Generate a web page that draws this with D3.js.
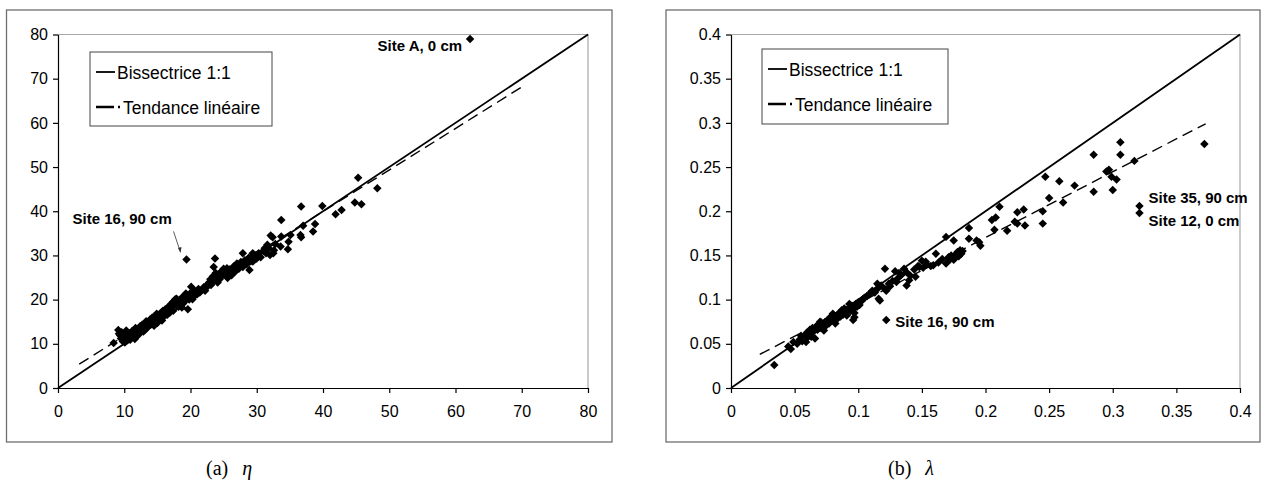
<!DOCTYPE html>
<html>
<head>
<meta charset="utf-8">
<script src="https://cdn.jsdelivr.net/npm/d3@7"></script>
<style>
  html, body { margin: 0; padding: 0; background: #fff; }
  svg { display: block; }
</style>
</head>
<body>
<svg id="chart" width="1266" height="487"></svg>
<script>
// ---------------- DATA ----------------
const etaTicks = [0, 10, 20, 30, 40, 50, 60, 70, 80];
const lambdaTicks = [0, 0.05, 0.1, 0.15, 0.2, 0.25, 0.3, 0.35, 0.4];

const legendLabels = ["Bissectrice 1:1", "Tendance linéaire"];
const captions = ["(a)", "(b)"];
const captionSymbols = ["η", "λ"];

// eta: [x, y]
const etaPoints = [
  [62.2, 79.0], [19.4, 29.1], [45.3, 47.6], [48.2, 45.2], [44.8, 42.0], [45.8, 41.6],
  [41.9, 39.3], [42.8, 40.3], [39.9, 41.2], [36.7, 41.1], [33.7, 38.0], [38.8, 37.1],
  [38.5, 35.4], [37.0, 36.7], [36.6, 34.6], [36.7, 34.1], [35.1, 34.6], [33.7, 34.3],
  [32.1, 34.5], [32.4, 34.1], [33.6, 32.0], [34.7, 31.4], [34.8, 33.1], [32.6, 31.2],
  [31.2, 31.6], [32.0, 30.1], [32.5, 30.5], [30.3, 30.5], [28.9, 26.7], [27.9, 30.5],
  [29.4, 30.5], [30.0, 29.3], [29.4, 28.6], [23.7, 29.3], [23.5, 27.4], [20.1, 22.9],
  [19.6, 17.8], [19.3, 21.4], [20.3, 20.1], [8.4, 10.2], [9.1, 13.1], [9.2, 12.3],
  [9.5, 11.2], [9.8, 10.5], [10.0, 11.8], [10.2, 10.9], [10.4, 12.0], [10.6, 11.3],
  [10.8, 12.4], [11.0, 11.5], [11.2, 12.9], [11.3, 11.9], [11.5, 12.3], [11.7, 13.6],
  [11.9, 12.7], [12.1, 13.2], [12.3, 12.5], [12.4, 14.0], [12.6, 13.4], [12.8, 13.9],
  [13.0, 14.4], [13.1, 13.1], [13.3, 15.1], [13.5, 14.2], [13.7, 14.8], [13.9, 15.5],
  [14.1, 14.6], [14.2, 15.9], [14.4, 15.2], [14.6, 16.3], [14.8, 15.0], [14.9, 16.8],
  [15.1, 15.9], [15.3, 16.5], [15.5, 17.0], [15.6, 16.2], [15.8, 17.4], [16.0, 16.8],
  [16.2, 17.8], [16.4, 17.2], [16.6, 18.3], [16.8, 17.6], [17.0, 18.9], [17.1, 18.1],
  [17.3, 19.4], [17.5, 18.6], [17.7, 20.1], [17.8, 19.0], [18.0, 19.6], [18.2, 18.4],
  [18.4, 20.0], [18.6, 19.3], [18.8, 20.6], [19.0, 19.8], [19.2, 21.1], [19.5, 20.3],
  [20.0, 21.5], [20.5, 20.7], [20.8, 21.9], [21.2, 22.4], [21.6, 22.0], [22.0, 22.8],
  [22.4, 23.2], [22.8, 23.9], [23.0, 24.6], [23.2, 23.8], [23.4, 25.3], [23.6, 24.4],
  [23.8, 26.0], [24.0, 25.0], [24.2, 25.7], [24.4, 24.6], [24.6, 26.3], [24.8, 25.6],
  [25.0, 27.0], [25.3, 26.1], [25.6, 24.9], [25.9, 26.8], [26.2, 25.5], [26.5, 27.5],
  [26.8, 26.4], [27.0, 28.2], [27.3, 27.0], [27.6, 28.5], [27.9, 27.4], [28.2, 28.9],
  [28.5, 28.0], [28.8, 29.5], [29.1, 28.7], [29.5, 29.9], [29.8, 29.2], [30.2, 30.3],
  [30.6, 29.6], [31.0, 31.0], [31.4, 30.5], [31.8, 31.6], [10.5, 10.8], [11.8, 11.6],
  [12.9, 12.8], [13.6, 13.9], [14.5, 14.1], [15.4, 15.6], [16.5, 16.6], [17.4, 17.5],
  [18.5, 18.7], [19.8, 20.0], [21.0, 21.2], [22.2, 22.0], [9.6, 12.6], [10.3, 13.0],
  [9.9, 11.0], [10.9, 10.9], [11.4, 12.0], [12.2, 12.1], [12.7, 14.3], [13.4, 13.5],
  [14.0, 14.3], [15.0, 14.7], [15.9, 16.0], [16.9, 17.1], [17.6, 19.8], [18.9, 19.1],
  [20.6, 22.0], [21.4, 21.6], [23.1, 23.3], [24.5, 25.1], [25.5, 27.1], [27.1, 27.9],
  [28.0, 28.1], [31.6, 32.4], [32.8, 32.6], [26.0, 25.8], [22.6, 23.0], [9.4, 11.9],
  [10.1, 10.3], [11.6, 11.1], [12.5, 13.0], [14.3, 15.6], [15.7, 15.3], [17.9, 20.2],
  [18.7, 18.2], [20.2, 20.8], [24.1, 23.9], [26.4, 26.1], [28.6, 29.0], [29.9, 30.1]
];

// lambda: [x, y]
const lambdaPoints = [
  [0.034, 0.026], [0.122, 0.077], [0.121, 0.135], [0.096, 0.077], [0.372, 0.276],
  [0.321, 0.206], [0.321, 0.198], [0.317, 0.257], [0.306, 0.278], [0.306, 0.264],
  [0.285, 0.264], [0.285, 0.222], [0.300, 0.224], [0.297, 0.247], [0.299, 0.239],
  [0.303, 0.236], [0.295, 0.245], [0.270, 0.229], [0.258, 0.234], [0.247, 0.239],
  [0.250, 0.215], [0.261, 0.210], [0.245, 0.200], [0.245, 0.186], [0.231, 0.184],
  [0.230, 0.202], [0.225, 0.199], [0.225, 0.186], [0.223, 0.188], [0.211, 0.205],
  [0.208, 0.193], [0.205, 0.190], [0.207, 0.179], [0.217, 0.178], [0.187, 0.181],
  [0.187, 0.169], [0.193, 0.167], [0.196, 0.161], [0.175, 0.167], [0.169, 0.171],
  [0.169, 0.141], [0.175, 0.145], [0.177, 0.152], [0.180, 0.156], [0.181, 0.152],
  [0.161, 0.152], [0.159, 0.139], [0.150, 0.144], [0.148, 0.137], [0.145, 0.126],
  [0.138, 0.116], [0.130, 0.120], [0.129, 0.132], [0.136, 0.135], [0.125, 0.115],
  [0.122, 0.110], [0.116, 0.101], [0.115, 0.118], [0.109, 0.107], [0.104, 0.101],
  [0.045, 0.047], [0.047, 0.044], [0.049, 0.052], [0.052, 0.050], [0.054, 0.055],
  [0.056, 0.053], [0.058, 0.060], [0.059, 0.052], [0.060, 0.057], [0.062, 0.062],
  [0.063, 0.058], [0.064, 0.068], [0.065, 0.064], [0.066, 0.056], [0.067, 0.070],
  [0.068, 0.066], [0.069, 0.072], [0.070, 0.068], [0.071, 0.074], [0.072, 0.070],
  [0.073, 0.065], [0.074, 0.075], [0.075, 0.071], [0.076, 0.077], [0.077, 0.073],
  [0.078, 0.080], [0.079, 0.076], [0.080, 0.084], [0.081, 0.078], [0.082, 0.073],
  [0.083, 0.082], [0.084, 0.079], [0.085, 0.085], [0.086, 0.081], [0.087, 0.088],
  [0.088, 0.083], [0.089, 0.090], [0.090, 0.086], [0.091, 0.082], [0.092, 0.089],
  [0.093, 0.091], [0.094, 0.087], [0.095, 0.093], [0.096, 0.090], [0.097, 0.085],
  [0.098, 0.095], [0.099, 0.092], [0.100, 0.097], [0.101, 0.094], [0.103, 0.099],
  [0.105, 0.102], [0.107, 0.104], [0.109, 0.106], [0.111, 0.110], [0.113, 0.108],
  [0.115, 0.112], [0.117, 0.099], [0.118, 0.116], [0.121, 0.112], [0.124, 0.118],
  [0.127, 0.121], [0.131, 0.124], [0.134, 0.128], [0.138, 0.131], [0.141, 0.127],
  [0.144, 0.134], [0.147, 0.138], [0.151, 0.136], [0.154, 0.140], [0.157, 0.138],
  [0.163, 0.142], [0.166, 0.146], [0.171, 0.148], [0.173, 0.150], [0.176, 0.147],
  [0.178, 0.154], [0.179, 0.149], [0.182, 0.155], [0.097, 0.080], [0.060, 0.063],
  [0.055, 0.059], [0.070, 0.075], [0.062, 0.066], [0.088, 0.087], [0.093, 0.095],
  [0.132, 0.130], [0.140, 0.122], [0.153, 0.143], [0.172, 0.145], [0.195, 0.165]
];

// trend lines: [x0, y0, x1, y1]
const etaTrend = [3.2, 5.4, 70.3, 68.4];
const lambdaTrend = [0.0226, 0.0381, 0.373, 0.299];

// annotations: [label, pointX, pointY]
const etaNotes = [["Site A, 0 cm", 62.2, 79.0], ["Site 16, 90 cm", 19.4, 29.1]];
const lambdaNotes = [["Site 16, 90 cm", 0.122, 0.077], ["Site 35, 90 cm", 0.321, 0.206], ["Site 12, 0 cm", 0.321, 0.198]];

// ---------------- DRAW ----------------
const svg = d3.select("#chart");

const diamond = {
  draw(ctx, size) {
    const r = Math.sqrt(size / 2);
    ctx.moveTo(0, -r); ctx.lineTo(r, 0); ctx.lineTo(0, r); ctx.lineTo(-r, 0); ctx.closePath();
  }
};

function panel(cfg) {
  const g = svg.append("g");
  // outer frame
  g.append("rect").attr("x", cfg.frame[0]).attr("y", cfg.frame[1])
    .attr("width", cfg.frame[2] - cfg.frame[0]).attr("height", cfg.frame[3] - cfg.frame[1])
    .attr("fill", "none").attr("stroke", "#6f6f6f").attr("stroke-width", 1.3);

  const x = d3.scaleLinear().domain(cfg.domain).range([cfg.plot[0], cfg.plot[2]]);
  const y = d3.scaleLinear().domain(cfg.domain).range([cfg.plot[3], cfg.plot[1]]);

  // plot area top/right border (gray)
  g.append("path")
    .attr("d", `M${x(cfg.domain[0])},${y(cfg.domain[1])}H${x(cfg.domain[1])}V${y(cfg.domain[0])}`)
    .attr("fill", "none").attr("stroke", "#a8a8a8").attr("stroke-width", 1.2);

  const xAxis = g.append("g").attr("transform", `translate(0,${y(cfg.domain[0])})`)
    .call(d3.axisBottom(x).tickValues(cfg.ticks).tickFormat(d => String(d)).tickSize(5).tickPadding(13).tickSizeOuter(0));
  const yAxis = g.append("g").attr("transform", `translate(${x(cfg.domain[0])},0)`)
    .call(d3.axisLeft(y).tickValues(cfg.ticks).tickFormat(d => String(d)).tickSize(5).tickPadding(5).tickSizeOuter(0));
  [xAxis, yAxis].forEach(a => {
    a.selectAll("path.domain").attr("stroke", "#000").attr("stroke-width", 1.2);
    a.selectAll(".tick line").attr("stroke", "#000").attr("stroke-width", 1.2);
    a.selectAll("text").attr("font-family", "Liberation Sans, Arial, sans-serif").attr("font-size", 16).attr("fill", "#000");
  });

  // 1:1 line
  g.append("line")
    .attr("x1", x(cfg.domain[0])).attr("y1", y(cfg.domain[0]))
    .attr("x2", x(cfg.domain[1])).attr("y2", y(cfg.domain[1]))
    .attr("stroke", "#000").attr("stroke-width", 1.8);

  // trend line
  const t = cfg.trend;
  g.append("line")
    .attr("x1", x(t[0])).attr("y1", y(t[1])).attr("x2", x(t[2])).attr("y2", y(t[3]))
    .attr("stroke", "#000").attr("stroke-width", 1.4).attr("stroke-dasharray", "11,6");

  // points
  g.append("g").selectAll("path").data(cfg.points).join("path")
    .attr("transform", d => `translate(${x(d[0])},${y(d[1])})`)
    .attr("d", d3.symbol().type(diamond).size(36))
    .attr("fill", "#000");

  // legend
  const L = cfg.legend;
  g.append("rect").attr("x", L[0]).attr("y", L[1]).attr("width", L[2]).attr("height", L[3])
    .attr("fill", "#fff").attr("stroke", "#444").attr("stroke-width", 1);
  const ly1 = L[1] + 20, ly2 = L[1] + 55;
  g.append("line").attr("x1", L[0] + 6).attr("x2", L[0] + 25).attr("y1", ly1).attr("y2", ly1)
    .attr("stroke", "#000").attr("stroke-width", 1.8);
  g.append("line").attr("x1", L[0] + 6).attr("x2", L[0] + 30).attr("y1", ly2).attr("y2", ly2)
    .attr("stroke", "#000").attr("stroke-width", 2.6).attr("stroke-dasharray", "18,4,2,4");
  g.append("text").attr("x", L[0] + 27).attr("y", ly1 + 6.5).text(legendLabels[0])
    .attr("font-family", "Liberation Sans, Arial, sans-serif").attr("font-size", 17.5);
  g.append("text").attr("x", L[0] + 33).attr("y", ly2 + 6.5).text(legendLabels[1])
    .attr("font-family", "Liberation Sans, Arial, sans-serif").attr("font-size", 17.5);

  // annotations
  cfg.notes.forEach((n, i) => {
    const o = cfg.noteOffsets[i];
    g.append("text").attr("x", x(n[1]) + o[0]).attr("y", y(n[2]) + o[1])
      .attr("text-anchor", o[2]).text(n[0])
      .attr("font-family", "Liberation Sans, Arial, sans-serif").attr("font-size", 15).attr("font-weight", "bold");
    if (o[3]) {
      const a = o[3];
      g.append("line").attr("x1", x(n[1]) + a[0]).attr("y1", y(n[2]) + a[1])
        .attr("x2", x(n[1]) + a[2]).attr("y2", y(n[2]) + a[3])
        .attr("stroke", "#333").attr("stroke-width", 0.8);
      g.append("path")
        .attr("d", `M${x(n[1]) + a[2]},${y(n[2]) + a[3]}l-2.6,-4.5l3.6,-0.9z`)
        .attr("fill", "#333");
    }
  });

  // caption
  const c = g.append("text").attr("x", cfg.caption[0]).attr("y", cfg.caption[1])
    .attr("font-family", "Liberation Serif, DejaVu Serif, serif").attr("font-size", 20);
  c.append("tspan").text(cfg.captionText);
  c.append("tspan").attr("dx", 14).attr("font-style", "italic").text(cfg.captionSym);
}

panel({
  frame: [6.5, 10, 612, 442],
  plot: [58, 34.5, 588, 388],
  domain: [0, 80],
  ticks: etaTicks,
  points: etaPoints,
  trend: etaTrend,
  legend: [90, 52, 182, 74],
  notes: etaNotes,
  noteOffsets: [[-8, 12, "end", null], [-114, -35, "start", [-13, -28, -6, -7]]],
  caption: [206, 475],
  captionText: captions[0],
  captionSym: captionSymbols[0]
});

panel({
  frame: [666, 10, 1260, 442],
  plot: [731, 34.5, 1240, 388],
  domain: [0, 0.4],
  ticks: lambdaTicks,
  points: lambdaPoints,
  trend: lambdaTrend,
  legend: [762, 49, 186, 75],
  notes: lambdaNotes,
  noteOffsets: [[9, 7, "start", null], [9, -3, "start", null], [9, 13, "start", null]],
  caption: [888, 475],
  captionText: captions[1],
  captionSym: captionSymbols[1]
});
</script>
</body>
</html>
